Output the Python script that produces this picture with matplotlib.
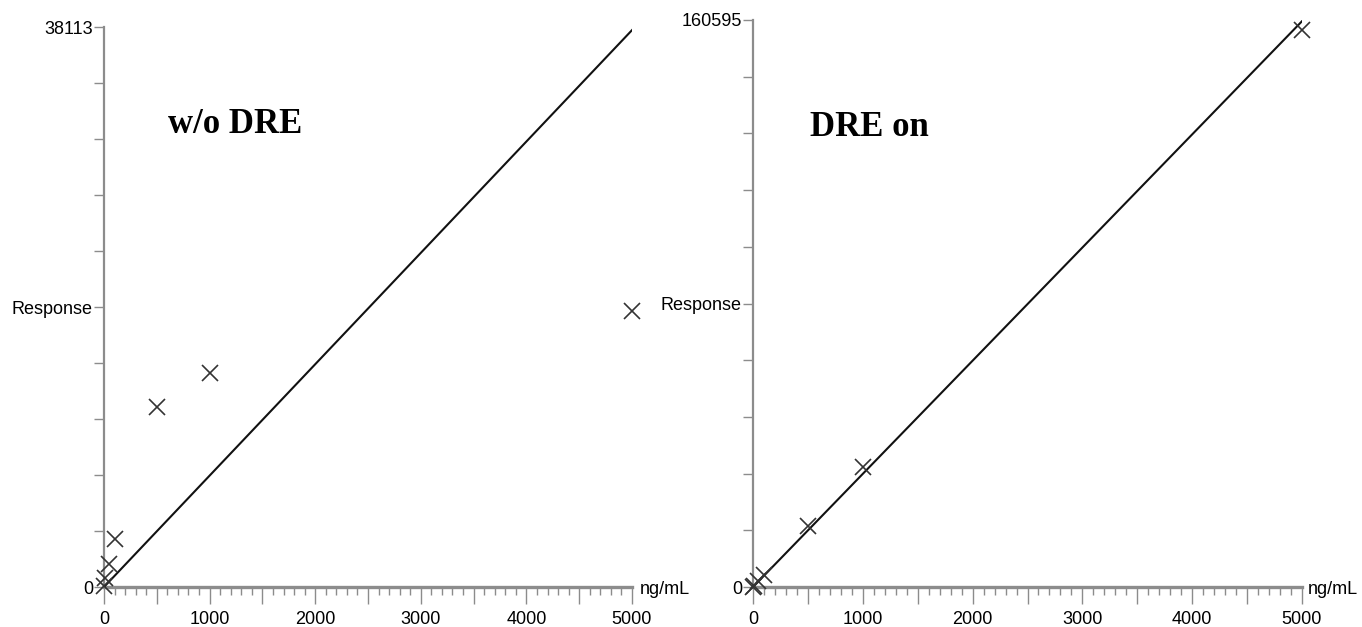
import numpy as np
import matplotlib
matplotlib.use("Agg")
import matplotlib.pyplot as plt
from matplotlib.ticker import FixedLocator

plt.rcParams["font.family"] = ["Liberation Sans", "DejaVu Sans"]

# Calibration standards (ng/mL)
conc = np.array([1, 10, 50, 100, 500, 1000, 5000], dtype=float)

# Responses
resp_nodre = np.array([100, 600, 1570, 3280, 12230, 14550, 18780], dtype=float)
resp_dre = np.array([30, 320, 1650, 3400, 17300, 34100, 157700], dtype=float)

# Calibration line slopes (response per ng/mL), intercept ~0
slope_nodre = 7.58
slope_dre = 32.05

ymax_nodre = 38113
ymax_dre = 160595

GRAY = "#8c8c8c"
TICK_FS = 13

fig = plt.figure(figsize=(13.62, 6.27), dpi=100)
W, H = 1362, 627


def make_axes(x0, x1, ytop, ybot=587):
    return fig.add_axes([x0 / W, 1 - ybot / H, (x1 - x0) / W, (ybot - ytop) / H])


def style(ax, ymax, conc, resp, slope, title, tx, ty, unit_x):
    x_fit = np.array([0, 5000.0])
    ax.plot(x_fit, slope * x_fit, color="#111111", lw=1.5, zorder=3)
    ax.plot(conc, resp, "x", color="#333333", markersize=11, mew=1.2,
            clip_on=False, zorder=4)
    ax.set_xlim(0, 5000)
    ax.set_ylim(0, ymax)

    for s in ("top", "right"):
        ax.spines[s].set_visible(False)
    ax.spines["left"].set_color(GRAY)
    ax.spines["left"].set_linewidth(1.6)
    ax.spines["bottom"].set_color(GRAY)
    ax.spines["bottom"].set_linewidth(2.4)

    # y ticks: ten divisions, only ends and middle labelled
    yt = np.linspace(0, ymax, 11)
    ax.yaxis.set_major_locator(FixedLocator(yt))
    ylabels = [""] * 11
    ylabels[0] = "0"
    ylabels[5] = "Response"
    ylabels[10] = str(ymax)
    ax.set_yticklabels(ylabels, fontsize=TICK_FS)
    ax.tick_params(axis="y", length=7, width=1, color=GRAY, pad=1)

    # x ticks: long every 500, short every 100, labels every 1000
    xt = np.arange(0, 5001, 500)
    ax.xaxis.set_major_locator(FixedLocator(xt))
    ax.xaxis.set_minor_locator(FixedLocator(np.arange(0, 5001, 100)))
    ax.set_xticklabels([str(int(v)) if v % 1000 == 0 else "" for v in xt],
                       fontsize=TICK_FS)
    ax.tick_params(axis="x", which="major", length=12, width=1, color=GRAY, pad=5)
    ax.tick_params(axis="x", which="minor", length=6, width=1, color=GRAY)

    fig.text(unit_x / W, 1 - 590 / H, "ng/mL", fontsize=TICK_FS, va="center",
             ha="left")
    fig.text(tx / W, 1 - ty / H, title, fontsize=25, fontweight="bold",
             family="Liberation Serif", va="baseline", ha="left")


ax1 = make_axes(104, 632, 27)
style(ax1, ymax_nodre, conc, resp_nodre, slope_nodre, "w/o DRE", 168, 133, 640)

ax2 = make_axes(753, 1302, 20)
style(ax2, ymax_dre, conc, resp_dre, slope_dre, "DRE on", 810, 136, 1308)

fig.savefig("out.png", dpi=100)
